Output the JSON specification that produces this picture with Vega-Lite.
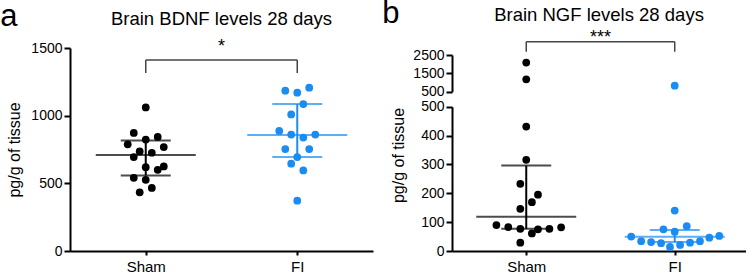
{
  "$schema": "https://vega.github.io/schema/vega-lite/v6.json",
  "padding": {"left": 0, "top": -2, "right": 0, "bottom": 0},
  "config": {
    "font": "Liberation Sans",
    "view": {"stroke": null},
    "axis": {"domainColor": "#000", "domainWidth": 2, "tickColor": "#000", "tickWidth": 2, "tickSize": 6, "labelColor": "#000", "labelFontSize": 14, "labelPadding": 2, "labelFont": "Liberation Sans", "titleFont": "Liberation Sans", "titleFontSize": 16, "titleFontWeight": "normal", "titleColor": "#000", "titlePadding": 8, "grid": false, "format": "d"},
    "title": {"font": "Liberation Sans", "fontSize": 18.5, "fontWeight": "normal", "color": "#000", "frame": "group", "anchor": "middle"}
  },
  "datasets": {
    "a_points": [
      {"group": "Sham", "x": 1.0, "value": 1061}, {"group": "Sham", "x": 0.921, "value": 872}, {"group": "Sham", "x": 1.0, "value": 823}, {"group": "Sham", "x": 1.079, "value": 843},
      {"group": "Sham", "x": 0.881, "value": 788}, {"group": "Sham", "x": 1.119, "value": 768}, {"group": "Sham", "x": 0.96, "value": 736}, {"group": "Sham", "x": 1.04, "value": 726},
      {"group": "Sham", "x": 0.921, "value": 694}, {"group": "Sham", "x": 1.0, "value": 619}, {"group": "Sham", "x": 1.079, "value": 600}, {"group": "Sham", "x": 1.119, "value": 625},
      {"group": "Sham", "x": 0.921, "value": 541}, {"group": "Sham", "x": 1.0, "value": 526}, {"group": "Sham", "x": 1.04, "value": 466}, {"group": "Sham", "x": 0.96, "value": 434},
      {"group": "FI", "x": 1.921, "value": 1185}, {"group": "FI", "x": 2.0, "value": 1170}, {"group": "FI", "x": 2.079, "value": 1207}, {"group": "FI", "x": 2.04, "value": 1086},
      {"group": "FI", "x": 1.96, "value": 1009}, {"group": "FI", "x": 1.881, "value": 887}, {"group": "FI", "x": 1.96, "value": 860}, {"group": "FI", "x": 2.04, "value": 838},
      {"group": "FI", "x": 2.119, "value": 860}, {"group": "FI", "x": 1.921, "value": 753}, {"group": "FI", "x": 2.079, "value": 753}, {"group": "FI", "x": 2.0, "value": 694},
      {"group": "FI", "x": 1.96, "value": 645}, {"group": "FI", "x": 2.04, "value": 595}, {"group": "FI", "x": 2.0, "value": 372}
    ],
    "a_stats": [
      {"group": "Sham", "x": 1, "mid": 710, "lo": 558, "hi": 816},
      {"group": "FI", "x": 2, "mid": 858, "lo": 694, "hi": 1086}
    ],
    "b_points": [
      {"group": "Sham", "x": 1.0, "value": 2085}, {"group": "Sham", "x": 1.0, "value": 1177}, {"group": "Sham", "x": 1.0, "value": 431}, {"group": "Sham", "x": 1.0, "value": 316},
      {"group": "Sham", "x": 0.96, "value": 233}, {"group": "Sham", "x": 1.079, "value": 195}, {"group": "Sham", "x": 1.038, "value": 169}, {"group": "Sham", "x": 0.96, "value": 146},
      {"group": "Sham", "x": 0.799, "value": 90}, {"group": "Sham", "x": 0.879, "value": 83}, {"group": "Sham", "x": 0.96, "value": 77}, {"group": "Sham", "x": 1.038, "value": 61},
      {"group": "Sham", "x": 1.079, "value": 75}, {"group": "Sham", "x": 1.156, "value": 77}, {"group": "Sham", "x": 1.235, "value": 82}, {"group": "Sham", "x": 0.96, "value": 29},
      {"group": "FI", "x": 2.0, "value": 828}, {"group": "FI", "x": 2.0, "value": 140}, {"group": "FI", "x": 1.924, "value": 75}, {"group": "FI", "x": 2.0, "value": 67},
      {"group": "FI", "x": 2.081, "value": 86}, {"group": "FI", "x": 1.707, "value": 50}, {"group": "FI", "x": 1.774, "value": 34}, {"group": "FI", "x": 1.841, "value": 31},
      {"group": "FI", "x": 1.908, "value": 27}, {"group": "FI", "x": 1.968, "value": 14}, {"group": "FI", "x": 2.036, "value": 21}, {"group": "FI", "x": 2.103, "value": 29},
      {"group": "FI", "x": 2.17, "value": 34}, {"group": "FI", "x": 2.233, "value": 46}, {"group": "FI", "x": 2.3, "value": 52}
    ],
    "b_stats": [
      {"group": "Sham", "x": 1, "mid": 119, "lo": 77, "hi": 296},
      {"group": "FI", "x": 2, "mid": 49, "lo": 31, "hi": 73}
    ]
  },
  "hconcat": [
    {
      "width": 303,
      "height": 203,
      "title": {"text": "Brain BDNF levels 28 days", "dy": 31},
      "layer": [
        {
          "data": {"name": "a_points"},
          "mark": {"type": "circle", "size": 60, "opacity": 1},
          "encoding": {
            "x": {"field": "x", "type": "quantitative", "scale": {"domain": [0.5, 2.5], "nice": false, "zero": false},
                  "axis": {"values": [1, 2], "labelExpr": "datum.value == 1 ? 'Sham' : 'FI'", "title": null, "tickSize": 4, "labelPadding": 4, "labelFontSize": 15}},
            "y": {"field": "value", "type": "quantitative", "scale": {"domain": [0, 1500], "nice": false},
                  "axis": {"values": [0, 500, 1000, 1500], "title": "pg/g of tissue"}},
            "color": {"field": "group", "type": "nominal", "scale": {"domain": ["Sham", "FI"], "range": ["#000000", "#1a8cf2"]}, "legend": null}
          }
        },
        {
          "data": {"name": "a_stats"},
          "mark": {"type": "rule", "strokeWidth": 2},
          "encoding": {
            "x": {"field": "x", "type": "quantitative"},
            "y": {"field": "lo", "type": "quantitative"},
            "y2": {"field": "hi"},
            "color": {"field": "group", "type": "nominal"}
          }
        },
        {
          "data": {"name": "a_stats"},
          "mark": {"type": "tick", "orient": "horizontal", "size": 100, "thickness": 2},
          "encoding": {
            "x": {"field": "x", "type": "quantitative"},
            "y": {"field": "mid", "type": "quantitative"},
            "color": {"field": "group", "type": "nominal"}
          }
        },
        {
          "data": {"name": "a_stats"},
          "mark": {"type": "tick", "orient": "horizontal", "size": 50, "thickness": 2},
          "encoding": {
            "x": {"field": "x", "type": "quantitative"},
            "y": {"field": "lo", "type": "quantitative"},
            "color": {"field": "group", "type": "nominal"}
          }
        },
        {
          "data": {"name": "a_stats"},
          "mark": {"type": "tick", "orient": "horizontal", "size": 50, "thickness": 2},
          "encoding": {
            "x": {"field": "x", "type": "quantitative"},
            "y": {"field": "hi", "type": "quantitative"},
            "color": {"field": "group", "type": "nominal"}
          }
        },
        {
          "data": {"values": [{}]},
          "mark": {"type": "rule", "color": "#444", "strokeWidth": 1.5},
          "encoding": {"x": {"datum": 1}, "x2": {"datum": 2}, "y": {"datum": 1411}}
        },
        {
          "data": {"values": [{}]},
          "mark": {"type": "rule", "color": "#444", "strokeWidth": 1.5},
          "encoding": {"x": {"datum": 1}, "y": {"datum": 1315}, "y2": {"datum": 1411}}
        },
        {
          "data": {"values": [{}]},
          "mark": {"type": "rule", "color": "#444", "strokeWidth": 1.5},
          "encoding": {"x": {"datum": 2}, "y": {"datum": 1315}, "y2": {"datum": 1411}}
        },
        {
          "data": {"values": [{}]},
          "mark": {"type": "text", "text": "*", "fontSize": 18, "baseline": "alphabetic", "align": "center", "color": "#000"},
          "encoding": {"x": {"datum": 1.5}, "y": {"datum": 1467}}
        },
        {
          "data": {"values": [{}]},
          "mark": {"type": "text", "text": "a", "fontSize": 31, "baseline": "alphabetic", "align": "left", "color": "#000"},
          "encoding": {"x": {"datum": 0.04}, "y": {"datum": 1660}}
        }
      ]
    },
    {
      "width": 294,
      "height": 203,
      "title": {"text": "Brain NGF levels 28 days", "dy": 30.7},
      "layer": [
        {
          "layer": [
            {
              "data": {"name": "b_points"},
              "transform": [{"filter": "datum.value <= 500"}],
              "mark": {"type": "circle", "size": 60, "opacity": 1},
              "encoding": {
                "x": {"field": "x", "type": "quantitative", "scale": {"domain": [0.5, 2.48], "nice": false, "zero": false},
                      "axis": {"values": [1, 2], "labelExpr": "datum.value == 1 ? 'Sham' : 'FI'", "title": null, "tickSize": 4, "labelPadding": 4, "labelFontSize": 15}},
                "y": {"field": "value", "type": "quantitative", "scale": {"domain": [0, 500], "range": [203, 58.7], "nice": false},
                      "axis": {"orient": "left", "values": [0, 100, 200, 300, 400, 500], "title": "pg/g of tissue", "titleY": 107, "titlePadding": 14}},
                "color": {"field": "group", "type": "nominal", "scale": {"domain": ["Sham", "FI"], "range": ["#000000", "#1a8cf2"]}, "legend": null}
              }
            },
            {
              "data": {"name": "b_stats"},
              "mark": {"type": "rule", "strokeWidth": 2},
              "encoding": {
                "x": {"field": "x", "type": "quantitative"},
                "y": {"field": "lo", "type": "quantitative"},
                "y2": {"field": "hi"},
                "color": {"field": "group", "type": "nominal"}
              }
            },
            {
              "data": {"name": "b_stats"},
              "mark": {"type": "tick", "orient": "horizontal", "size": 100, "thickness": 2},
              "encoding": {
                "x": {"field": "x", "type": "quantitative"},
                "y": {"field": "mid", "type": "quantitative"},
                "color": {"field": "group", "type": "nominal"}
              }
            },
            {
              "data": {"name": "b_stats"},
              "mark": {"type": "tick", "orient": "horizontal", "size": 50, "thickness": 2},
              "encoding": {
                "x": {"field": "x", "type": "quantitative"},
                "y": {"field": "lo", "type": "quantitative"},
                "color": {"field": "group", "type": "nominal"}
              }
            },
            {
              "data": {"name": "b_stats"},
              "mark": {"type": "tick", "orient": "horizontal", "size": 50, "thickness": 2},
              "encoding": {
                "x": {"field": "x", "type": "quantitative"},
                "y": {"field": "hi", "type": "quantitative"},
                "color": {"field": "group", "type": "nominal"}
              }
            }
          ]
        },
        {
          "layer": [
            {
              "data": {"name": "b_points"},
              "transform": [{"filter": "datum.value > 500"}],
              "mark": {"type": "circle", "size": 60, "opacity": 1},
              "encoding": {
                "x": {"field": "x", "type": "quantitative"},
                "y": {"field": "value", "type": "quantitative", "scale": {"domain": [500, 2500], "range": [43.7, 7], "nice": false, "zero": false},
                      "axis": {"orient": "left", "values": [500, 1500, 2500], "title": null}},
                "color": {"field": "group", "type": "nominal"}
              }
            },
            {
              "data": {"values": [{}]},
              "mark": {"type": "rule", "color": "#444", "strokeWidth": 1.5},
              "encoding": {"x": {"datum": 1}, "x2": {"datum": 2}, "y": {"datum": 3225}}
            },
            {
              "data": {"values": [{}]},
              "mark": {"type": "rule", "color": "#444", "strokeWidth": 1.5},
              "encoding": {"x": {"datum": 1}, "y": {"datum": 2680}, "y2": {"datum": 3225}}
            },
            {
              "data": {"values": [{}]},
              "mark": {"type": "rule", "color": "#444", "strokeWidth": 1.5},
              "encoding": {"x": {"datum": 2}, "y": {"datum": 2680}, "y2": {"datum": 3225}}
            },
            {
              "data": {"values": [{}]},
              "mark": {"type": "text", "text": "***", "fontSize": 18, "baseline": "alphabetic", "align": "center", "color": "#000"},
              "encoding": {"x": {"datum": 1.5}, "y": {"datum": 3132}}
            },
            {
              "data": {"values": [{}]},
              "mark": {"type": "text", "text": "b", "fontSize": 31, "baseline": "alphabetic", "align": "left", "color": "#000"},
              "encoding": {"x": {"datum": 0.03}, "y": {"datum": 4228}}
            }
          ]
        }
      ],
      "resolve": {"scale": {"y": "independent"}, "axis": {"y": "independent"}}
    }
  ],
  "spacing": 79,
  "bounds": "flush"
}
